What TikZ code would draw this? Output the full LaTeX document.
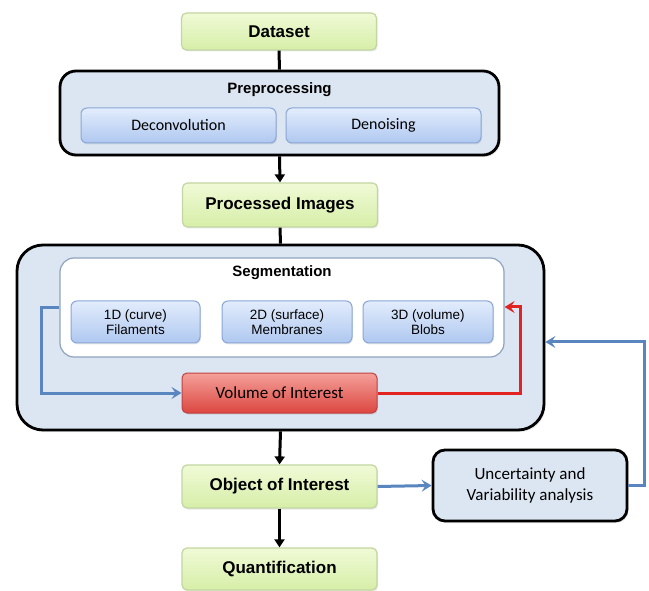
\documentclass[tikz,border=0pt]{standalone}
\usepackage{fontspec}
\setmainfont{Liberation Sans}
\newfontfamily\calfont{Carlito}
\usetikzlibrary{arrows.meta,shadows,calc}
\definecolor{gtop}{HTML}{F0FAD6}
\definecolor{gbot}{HTML}{D6EEA8}
\definecolor{gline}{HTML}{C3D6A2}
\definecolor{btop}{HTML}{E2ECFC}
\definecolor{bbot}{HTML}{AFC8F0}
\definecolor{bline}{HTML}{8AA6D6}
\definecolor{outerfill}{HTML}{DCE6F2}
\definecolor{innerline}{HTML}{8EA3BE}
\definecolor{rtop}{HTML}{F4A09A}
\definecolor{rbot}{HTML}{DC4640}
\definecolor{rline}{HTML}{C04040}
\definecolor{arrblue}{HTML}{5A86BF}
\definecolor{arrred}{HTML}{E32222}
\tikzset{
  greenbox/.style={draw=gline, line width=1.2pt, rounded corners=5pt,
    top color=gtop, bottom color=gbot, minimum width=195pt, minimum height=40pt,
    font=\fontsize{17}{19}\selectfont\bfseries, inner sep=0pt,
    drop shadow={opacity=0.18, shadow xshift=1pt, shadow yshift=-1.5pt}},
  bluebox/.style={draw=bline, line width=1pt, rounded corners=6pt,
    top color=btop, bottom color=bbot, inner sep=0pt, align=center,
    drop shadow={opacity=0.18, shadow xshift=1pt, shadow yshift=-1.5pt}},
  outerbox/.style={draw=black, line width=2.8pt, fill=outerfill, inner sep=0pt,
    drop shadow={opacity=0.18, shadow xshift=1.5pt, shadow yshift=-2pt}},
  titletext/.style={font=\fontsize{15}{17}\selectfont\bfseries, inner sep=0pt},
  blackflow/.style={draw=black, line width=3pt},
  blackarrow/.style={blackflow, -{Triangle[width=10pt,length=8pt]}},
  bluearrow/.style={draw=arrblue, line width=3pt, -{Stealth[width=12pt,length=10pt,inset=4pt]}},
  redarrow/.style={draw=arrred, line width=3pt, -{Stealth[width=12pt,length=10pt,inset=4pt]}},
}
\begin{document}
\begin{tikzpicture}[x=1pt,y=-1pt]
\useasboundingbox[fill=white] (0,0) rectangle (649,591);

% Dataset
\node[greenbox, minimum height=37pt] (dataset) at (279,31.5) {Dataset};

% Preprocessing
\node[outerbox, rounded corners=16pt, minimum width=439pt, minimum height=84pt] (prep) at (279.5,113) {};
\node[titletext] (preptitle) at (279.5,90) {Preprocessing};
\node[bluebox, minimum width=195pt, minimum height=35pt, font=\calfont\fontsize{16}{18}\selectfont] (deconv) at (178.5,125.5) {Deconvolution};
\node[bluebox, minimum width=195pt, minimum height=35pt, font=\calfont\fontsize{16}{18}\selectfont] (denoise) at (383.5,125.5) {Denoising};

% Processed Images
\node[greenbox, minimum height=44pt] (processed) at (280,205) {Processed Images};

% Segmentation outer
\node[outerbox, rounded corners=26pt, minimum width=527pt, minimum height=185pt] (segouter) at (280.5,337.5) {};
\node[draw=innerline, line width=1.2pt, fill=white, rounded corners=14pt, minimum width=444pt, minimum height=99pt, inner sep=0pt] (seginner) at (282,307.5) {};
\node[titletext] (segtitle) at (282,273) {Segmentation};
\node[bluebox, minimum width=129pt, minimum height=42pt, font=\fontsize{13.5}{15.5}\selectfont] (b1) at (135.5,322) {1D (curve)\\Filaments};
\node[bluebox, minimum width=130pt, minimum height=42pt, font=\fontsize{13.5}{15.5}\selectfont] (b2) at (287,322) {2D (surface)\\Membranes};
\node[bluebox, minimum width=130pt, minimum height=42pt, font=\fontsize{13.5}{15.5}\selectfont] (b3) at (428,322) {3D (volume)\\Blobs};

% Volume of interest
\node[draw=rline, line width=1pt, rounded corners=5pt, top color=rtop, bottom color=rbot,
  minimum width=195pt, minimum height=40pt, inner sep=0pt, font=\calfont\fontsize{17}{19}\selectfont,
  drop shadow={opacity=0.18, shadow xshift=1pt, shadow yshift=-1.5pt}] (voi) at (279.5,393) {Volume of Interest};

% Object of Interest, Quantification
\node[greenbox, minimum height=43pt] (obj) at (279.5,486.5) {Object of Interest};
\node[greenbox, minimum height=42pt] (quant) at (279.5,569) {Quantification};

% Uncertainty
\node[outerbox, rounded corners=12pt, minimum width=194pt, minimum height=71pt, align=center,
  font=\calfont\fontsize{17}{21}\selectfont] (unc) at (530,485.5) {Uncertainty and\\Variability analysis};

% connectors
\draw[blackflow] (dataset.south) -- (prep.north);
\draw[blackarrow] (prep.south) -- (processed.north);
\draw[blackflow] (processed.south) -- (segouter.north);
\draw[blackarrow] (segouter.south) -- (obj.north);
\draw[blackarrow] (obj.south) -- (quant.north);
\draw[bluearrow] (obj.east) -- (unc.west);

\coordinate (fbc) at (644,342);
\draw[bluearrow] (unc.east) -| (fbc) -- (segouter.east |- fbc);

\coordinate (lc) at (41,308);
\draw[bluearrow] (seginner.west |- lc) -- (lc) |- (voi.west);

\coordinate (rc) at (520,307);
\draw[redarrow] (voi.east) -| (rc) -- (seginner.east |- rc);
\end{tikzpicture}
\end{document}
